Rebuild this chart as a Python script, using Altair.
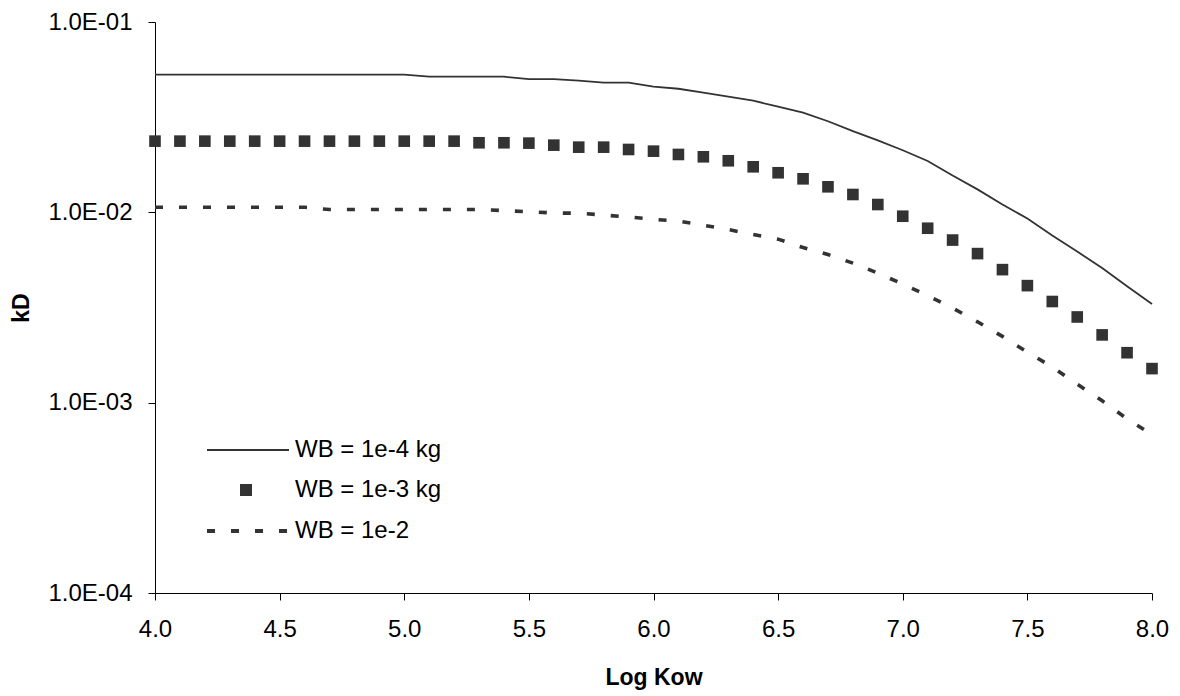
import altair as alt
import pandas as pd

# Log Kow values (x)
log_kow = [4.0, 4.1, 4.2, 4.3, 4.4, 4.5, 4.6, 4.7, 4.8, 4.9,
           5.0, 5.1, 5.2, 5.3, 5.4, 5.5, 5.6, 5.7, 5.8, 5.9,
           6.0, 6.1, 6.2, 6.3, 6.4, 6.5, 6.6, 6.7, 6.8, 6.9,
           7.0, 7.1, 7.2, 7.3, 7.4, 7.5, 7.6, 7.7, 7.8, 7.9, 8.0]

# kD for WB = 1e-4 kg (solid line)
kd_wb_1e4 = [0.0529, 0.0529, 0.0529, 0.0529, 0.0529, 0.0529, 0.0529, 0.0529, 0.0529, 0.0529,
             0.0529, 0.0516, 0.0516, 0.0516, 0.0516, 0.0501, 0.0501, 0.0492, 0.0480, 0.0480,
             0.0457, 0.0446, 0.0425, 0.0405, 0.0386, 0.0359, 0.0334, 0.0301, 0.0267, 0.0239,
             0.0212, 0.0186, 0.0156, 0.0132, 0.0110, 0.00928, 0.00755, 0.00622, 0.00510, 0.00409,
             0.00330]

# kD for WB = 1e-3 kg (squares)
kd_wb_1e3 = [0.02366, 0.02366, 0.02366, 0.02366, 0.02366, 0.02366, 0.02366, 0.02366, 0.02366, 0.02366,
             0.02366, 0.02366, 0.02366, 0.02320, 0.02320, 0.02310, 0.02254, 0.02200, 0.02200, 0.02139,
             0.02096, 0.02014, 0.01958, 0.01866, 0.01735, 0.01614, 0.01500, 0.01362, 0.01241, 0.01099,
             0.00954, 0.00825, 0.00715, 0.00607, 0.00500, 0.00412, 0.00340, 0.00282, 0.00227, 0.00183,
             0.00151]

# kD for WB = 1e-2 (dashed line)
kd_wb_1e2 = [0.01063, 0.01063, 0.01063, 0.01063, 0.01063, 0.01063, 0.01063, 0.01034, 0.01034, 0.01034,
             0.01034, 0.01034, 0.01034, 0.01034, 0.01021, 0.01007, 0.00992, 0.00989, 0.00968, 0.00945,
             0.00919, 0.00899, 0.00856, 0.00812, 0.00764, 0.00723, 0.00653, 0.00600, 0.00541, 0.00479,
             0.00420, 0.00365, 0.00314, 0.00266, 0.00223, 0.00184, 0.00154, 0.00125, 0.001023, 0.000823,
             0.000678]

legend_labels = ["WB = 1e-4 kg", "WB = 1e-3 kg", "WB = 1e-2"]
x_ticks = [4.0, 4.5, 5.0, 5.5, 6.0, 6.5, 7.0, 7.5, 8.0]
y_ticks = [1e-4, 1e-3, 1e-2, 1e-1]

FONT = "Liberation Sans"
INK = "#333333"
W, H = 997, 571
FS = 24       # tick labels / legend
TFS = 23      # axis titles (bold)

df = pd.DataFrame({"x": log_kow, "a": kd_wb_1e4, "b": kd_wb_1e3, "c": kd_wb_1e2})

xenc = alt.X(
    "x:Q",
    scale=alt.Scale(domain=[4, 8], nice=False, zero=False),
    axis=alt.Axis(
        values=x_ticks, format=".1f", title="Log Kow", grid=False,
        labelFlush=False, labelOverlap=False,
        domainColor="#000000", tickColor="#000000", tickSize=7,
        labelFont=FONT, labelFontSize=FS, labelColor="#000000", labelPadding=17,
        titleFont=FONT, titleFontSize=TFS, titleFontWeight="bold", titleColor="#000000",
        titleBaseline="middle", titleY=84,
    ),
)

def yenc(field):
    return alt.Y(
        f"{field}:Q",
        scale=alt.Scale(type="log", domain=[1e-4, 1e-1], nice=False),
        axis=alt.Axis(
            values=y_ticks, title="kD", grid=False,
            labelFlush=False, labelOverlap=False,
            labelExpr="'1.0E-0' + toString(-round(log(datum.value) / LN10))",
            domainColor="#000000", tickColor="#000000", tickSize=7,
            labelFont=FONT, labelFontSize=FS, labelColor="#000000", labelPadding=16,
            titleFont=FONT, titleFontSize=TFS, titleFontWeight="bold", titleColor="#000000",
            titleBaseline="middle", titleAngle=270, titleX=-134, titleY=H / 2,
        ),
    )

solid = alt.Chart(df).mark_line(color=INK, strokeWidth=1.8).encode(x=xenc, y=yenc("a"))
squares = alt.Chart(df).mark_point(shape="square", filled=True, size=135, color=INK, opacity=1).encode(x=xenc, y=yenc("b"))
dashed = alt.Chart(df).mark_line(color=INK, strokeWidth=3.6, strokeDash=[8, 16]).encode(x=xenc, y=yenc("c"))

# Legend (inside plot, lower-left)
leg_df = pd.DataFrame({"label": legend_labels})
leg_rows_y = [428, 468, 509]

leg_solid = alt.Chart(leg_df).mark_rule(color=INK, strokeWidth=1.8).encode(
    x=alt.value(52), x2=alt.value(134), y=alt.value(leg_rows_y[0]))
leg_square = alt.Chart(leg_df).mark_point(shape="square", filled=True, size=135, color=INK, opacity=1).encode(
    x=alt.value(91), y=alt.value(leg_rows_y[1]))
leg_dash = alt.Chart(leg_df).mark_rule(color=INK, strokeWidth=3.6, strokeDash=[8, 16]).encode(
    x=alt.value(52), x2=alt.value(134), y=alt.value(leg_rows_y[2]))

leg_texts = []
for i, lab in enumerate(legend_labels):
    leg_texts.append(
        alt.Chart(pd.DataFrame({"label": [lab]})).mark_text(
            align="left", baseline="middle", font=FONT, fontSize=FS, color="#000000"
        ).encode(x=alt.value(140), y=alt.value(leg_rows_y[i]), text="label:N")
    )

chart = alt.layer(solid, squares, dashed, leg_solid, leg_square, leg_dash, *leg_texts).properties(
    width=W, height=H,
    autosize=alt.AutoSizeParams(type="none"),
    padding={"left": 147, "top": 14, "right": 20, "bottom": 103},
    background="white",
).configure_view(stroke=None)

chart.save("out.html", embed_options={"renderer": "svg", "actions": False})
